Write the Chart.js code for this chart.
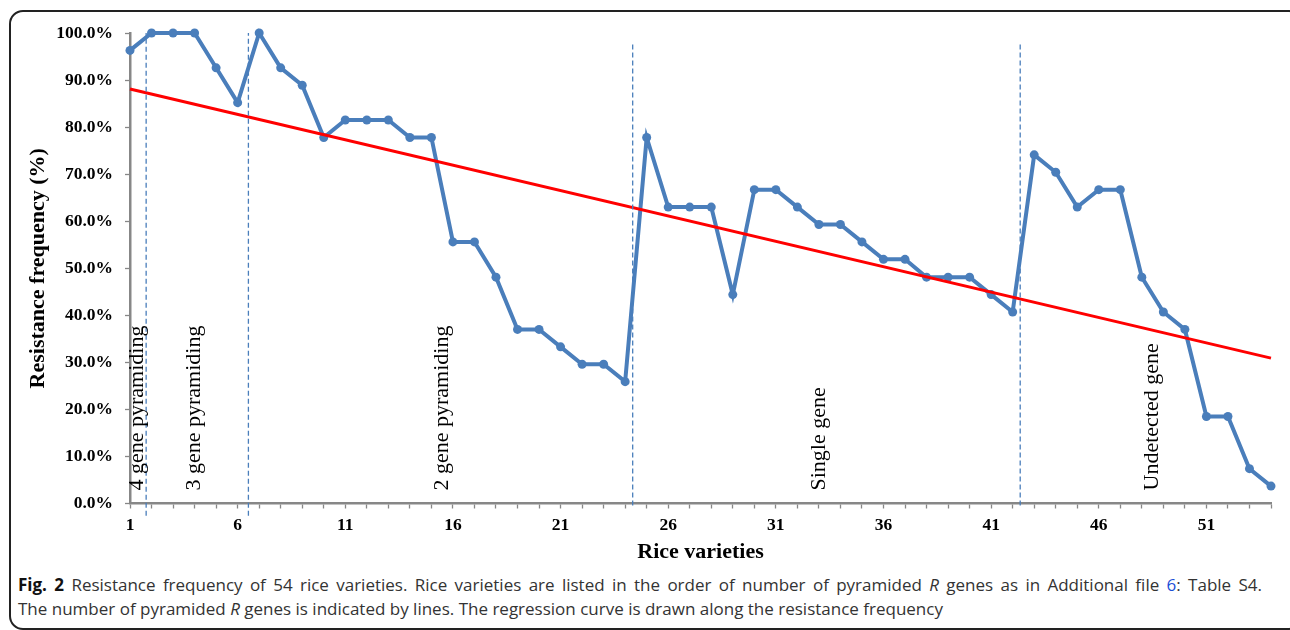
<!DOCTYPE html>
<html>
<head>
<meta charset="utf-8">
<script src="https://cdn.jsdelivr.net/npm/chart.js@4.4.1/dist/chart.umd.min.js"></script>
<style>
  html, body { margin: 0; padding: 0; background: #fff; }
  #wrap { position: relative; width: 1290px; height: 630px; overflow: hidden; }
  #chart { position: absolute; left: 0; top: 0; }
  #frame {
    position: absolute; left: 9px; top: 10px; width: 1290px; height: 616px;
    border: 2px solid #222; border-radius: 14px; pointer-events: none;
  }
  .cap {
    position: absolute; left: 18px; font-family: "Open Sans", "Noto Sans", sans-serif;
    font-size: 17px; color: #333; white-space: nowrap;
  }
  .cap.just { width: 1244px; white-space: normal; text-align: justify; text-align-last: justify; }
  .cap b { color: #111; }
  .cap .lnk { color: #1a4fd6; }
</style>
</head>
<body>
<div id="wrap">
  <canvas id="chart" width="1290" height="570"></canvas>
  <div class="cap just" style="top:573px"><b>Fig. 2</b> Resistance frequency of 54 rice varieties. Rice varieties are listed in the order of number of pyramided <i>R</i> genes as in Additional file <span class="lnk">6</span>: Table S4.</div>
  <div class="cap" style="top:597px">The number of pyramided <i>R</i> genes is indicated by lines. The regression curve is drawn along the resistance frequency</div>
  <div id="frame"></div>
</div>
<script>
// rice variety numbers 1..54
const varieties = [
  1, 2, 3, 4, 5, 6, 7, 8, 9, 10, 11, 12, 13, 14, 15, 16, 17, 18,
  19, 20, 21, 22, 23, 24, 25, 26, 27, 28, 29, 30, 31, 32, 33, 34, 35, 36,
  37, 38, 39, 40, 41, 42, 43, 44, 45, 46, 47, 48, 49, 50, 51, 52, 53, 54
];
// resistance frequency (%)
const resistance = [
  96.3, 100, 100, 100, 92.6, 85.2, 100, 92.6, 88.9, 77.8, 81.5, 81.5, 81.5, 77.8, 77.8, 55.6, 55.6, 48.1,
  37.0, 37.0, 33.3, 29.6, 29.6, 25.9, 77.8, 63.0, 63.0, 63.0, 44.4, 66.7, 66.7, 63.0, 59.3, 59.3, 55.6, 51.9,
  51.9, 48.1, 48.1, 48.1, 44.4, 40.7, 74.1, 70.4, 63.0, 66.7, 66.7, 48.1, 40.7, 37.0, 18.5, 18.5, 7.4, 3.7
];
// regression line end points
const trendX = [1, 54];
const trendY = [88.1, 30.9];

// group dividers (dashed) and group labels
const dividerX = [1.75, 6.5, 24.35, 42.35];
const dividerTop = [100, 100, 97.7, 97.7];
const dividerBottom = [-2.6, -2.6, -0.4, -0.4];
const groupNames = ['4 gene pyramiding', '3 gene pyramiding', '2 gene pyramiding', 'Single gene', 'Undetected gene'];
const groupX = [1.6, 4.25, 15.78, 33.3, 48.77];

const xTickLabels = [1, 6, 11, 16, 21, 26, 31, 36, 41, 46, 51];
const yTicks = [0, 10, 20, 30, 40, 50, 60, 70, 80, 90, 100];

const serif = '"Liberation Serif", "Times New Roman", serif';
const blue = '#4a7ebb';
const axisGray = '#878787';

const datasets = [];
dividerX.forEach((x, i) => {
  datasets.push({
    data: [{x: x, y: dividerBottom[i]}, {x: x, y: dividerTop[i]}],
    borderColor: blue,
    borderWidth: 1.3,
    borderDash: [5, 3],
    pointRadius: 0,
    clip: false
  });
});
datasets.push({
  data: trendX.map((x, i) => ({x: x, y: trendY[i]})),
  borderColor: '#ff0000',
  borderWidth: 3,
  pointRadius: 0,
  clip: false
});
datasets.push({
  data: varieties.map((v, i) => ({x: v, y: resistance[i]})),
  borderColor: blue,
  backgroundColor: blue,
  borderWidth: 4,
  pointRadius: 4.5,
  pointBorderWidth: 0,
  clip: false
});

const groupLabels = {
  id: 'groupLabels',
  afterDatasetsDraw(chart) {
    const ctx = chart.ctx;
    const xs = chart.scales.x, ys = chart.scales.y;
    ctx.save();
    ctx.font = '22px ' + serif;
    ctx.fillStyle = '#000';
    ctx.textAlign = 'left';
    ctx.textBaseline = 'alphabetic';
    groupNames.forEach((name, i) => {
      ctx.save();
      ctx.translate(xs.getPixelForValue(groupX[i]), ys.getPixelForValue(0) - 13);
      ctx.rotate(-Math.PI / 2);
      ctx.fillText(name, 0, 0);
      ctx.restore();
    });
    ctx.restore();
  }
};

new Chart('chart', {
  type: 'line',
  data: { datasets: datasets },
  options: {
    responsive: false,
    animation: false,
    layout: { padding: { left: 0, top: 33, right: 19, bottom: 0 } },
    plugins: {
      legend: { display: false },
      tooltip: { enabled: false }
    },
    scales: {
      x: {
        type: 'linear',
        min: 1,
        max: 54,
        afterBuildTicks: function (scale) {
          scale.ticks = varieties.map(v => ({value: v}));
        },
        afterFit: function (scale) { scale.height = 66.5; },
        grid: {
          drawOnChartArea: false,
          drawTicks: true,
          tickLength: 5,
          color: axisGray,
          tickWidth: 1.3
        },
        border: { color: axisGray, width: 2.5 },
        ticks: {
          autoSkip: false,
          maxRotation: 0,
          padding: 6,
          color: '#000',
          font: { family: serif, size: 17.5, weight: 'bold' },
          callback: function (value) {
            return xTickLabels.includes(value) ? String(value) : '';
          }
        },
        title: {
          display: true,
          text: 'Rice varieties',
          color: '#000',
          font: { family: serif, size: 22, weight: 'bold' },
          padding: { top: 0, bottom: 4 }
        }
      },
      y: {
        min: 0,
        max: 100,
        afterBuildTicks: function (scale) {
          scale.ticks = yTicks.map(v => ({value: v}));
        },
        afterFit: function (scale) { scale.width = 130; },
        grid: {
          drawOnChartArea: false,
          drawTicks: true,
          tickLength: 5,
          color: axisGray,
          tickWidth: 1.3
        },
        border: { color: axisGray, width: 2.5 },
        ticks: {
          padding: 12,
          color: '#000',
          font: { family: serif, size: 17.5, weight: 'bold' },
          callback: function (value) { return value.toFixed(1) + '%'; }
        },
        title: {
          display: true,
          text: 'Resistance frequency (%)',
          color: '#000',
          font: { family: serif, size: 22, weight: 'bold' },
          padding: { top: 25, bottom: 0 }
        }
      }
    }
  },
  plugins: [groupLabels]
});
</script>
</body>
</html>
